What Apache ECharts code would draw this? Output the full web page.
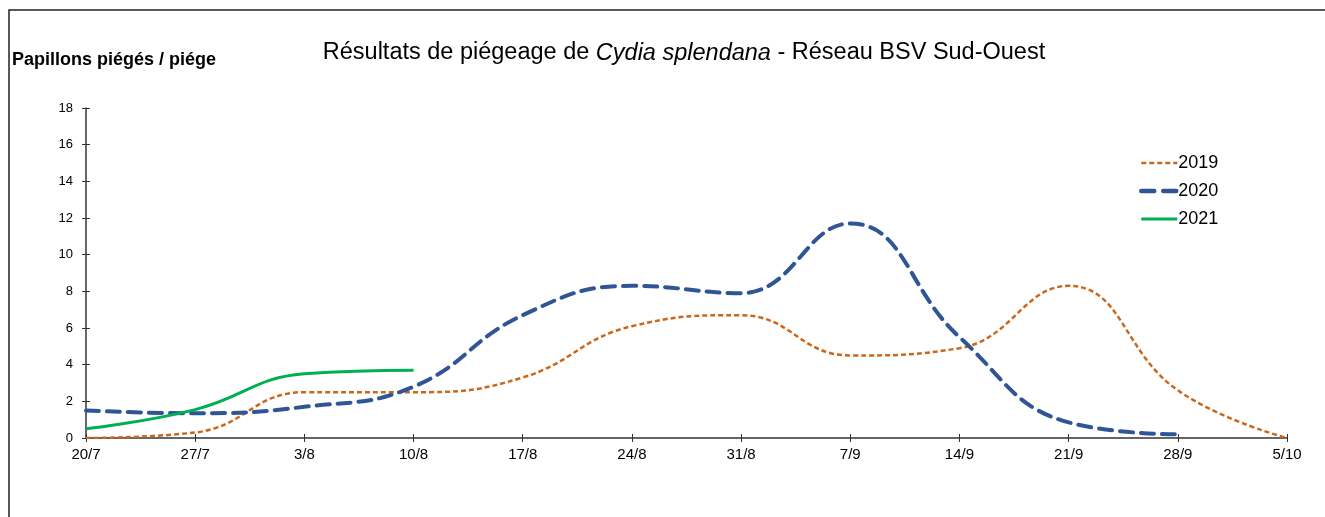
<!DOCTYPE html>
<html>
<head>
<meta charset="utf-8">
<script src="https://cdn.jsdelivr.net/npm/echarts@6/dist/echarts.min.js"></script>
<style>
  html, body { margin: 0; padding: 0; background: #fff; }
  #chart { width: 1325px; height: 517px; }
</style>
</head>
<body>
<div id="chart"></div>
<script>
// dates des relevés
const dates = ['20/7', '27/7', '3/8', '10/8', '17/8', '24/8', '31/8', '7/9', '14/9', '21/9', '28/9', '5/10']
// papillons piégés / piège
const y2019 = [0, 0.3, 2.5, 2.5, 3.3, 6.1, 6.7, 4.5, 4.9, 8.3, 2.6, 0]
const y2020 = [1.5, 1.35, 1.7, 2.8, 6.7, 8.3, 7.9, 11.7, 5.5, 0.85, 0.2]
const y2021 = [0.5, 1.55, 3.5, 3.7]

const chart = echarts.init(document.getElementById('chart'))
const font = 'Liberation Sans, Arial, sans-serif'

const c2019 = '#CC6619'
const c2020 = '#2F5597'
const c2021 = '#00B050'

const option = {
  animation: false,
  textStyle: { fontFamily: font },
  title: {
    text: '{n|Résultats de piégeage de }{i|Cydia splendana}{n| - Réseau BSV Sud-Ouest}',
    left: 679,
    top: 36,
    textAlign: 'center',
    textStyle: {
      fontWeight: 'normal',
      rich: {
        n: { fontFamily: font, fontSize: 23.5, color: '#000', fontWeight: 'normal' },
        i: { fontFamily: font, fontSize: 23.5, color: '#000', fontStyle: 'italic', fontWeight: 'normal' }
      }
    }
  },
  graphic: [
    {
      type: 'rect',
      shape: { x: 9, y: 10, width: 1400, height: 600 },
      style: { fill: 'none', stroke: '#222', lineWidth: 1.5 }
    },
    {
      type: 'text',
      left: 12,
      top: 51,
      style: { text: 'Papillons piégés / piége', font: 'bold 18px ' + font, fill: '#000' }
    }
  ],
  legend: {
    orient: 'vertical',
    left: 1139,
    top: 153,
    padding: 0,
    itemWidth: 36,
    itemHeight: 20,
    itemGap: 8,
    itemStyle: { opacity: 0 },
    textStyle: { fontFamily: font, fontSize: 18, color: '#000', padding: [0, 0, 0, -4], lineHeight: 20 },
    data: [
      { name: '2019', lineStyle: { width: 2.5, type: [5, 3], color: c2019 } },
      { name: '2020', lineStyle: { width: 4.5, type: [13, 9], color: c2020 } },
      { name: '2021', lineStyle: { width: 3, color: c2021 } }
    ]
  },
  grid: { left: 86, right: 38, top: 108, bottom: 79 },
  xAxis: [
    {
      type: 'category',
      data: dates,
      boundaryGap: false,
      axisLine: { lineStyle: { color: '#333', width: 1.5 } },
      axisTick: { show: false },
      axisLabel: { color: '#000', fontSize: 15, margin: 9 },
      splitLine: { show: false }
    },
    {
      // graduations qui traversent l'axe
      type: 'category',
      data: dates,
      boundaryGap: false,
      position: 'bottom',
      offset: -4,
      axisLine: { show: false },
      axisTick: { show: true, length: 8, lineStyle: { color: '#333' } },
      axisLabel: { show: false }
    }
  ],
  yAxis: [
    {
      type: 'value',
      min: 0,
      max: 18,
      interval: 2,
      axisLine: { show: true, lineStyle: { color: '#333', width: 1.5 } },
      axisTick: { show: false },
      axisLabel: { color: '#000', fontSize: 13, margin: 13 },
      splitLine: { show: false }
    },
    {
      type: 'value',
      min: 0,
      max: 18,
      interval: 2,
      position: 'left',
      offset: -4,
      axisLine: { show: false },
      axisTick: { show: true, length: 8, lineStyle: { color: '#333' } },
      axisLabel: { show: false },
      splitLine: { show: false }
    }
  ],
  series: [
    {
      name: '2019',
      type: 'line',
      data: y2019,
      smooth: 0.45,
      showSymbol: false,
      symbol: 'none',
      lineStyle: { color: c2019, width: 2.5, type: [5, 3] },
      itemStyle: { color: c2019 }
    },
    {
      name: '2020',
      type: 'line',
      data: y2020,
      smooth: 0.45,
      showSymbol: false,
      symbol: 'none',
      lineStyle: { color: c2020, width: 4, type: [13, 8], cap: 'round' },
      itemStyle: { color: c2020 }
    },
    {
      name: '2021',
      type: 'line',
      data: y2021,
      smooth: 0.45,
      showSymbol: false,
      symbol: 'none',
      lineStyle: { color: c2021, width: 3 },
      itemStyle: { color: c2021 }
    }
  ]
}

chart.setOption(option)
</script>
</body>
</html>
